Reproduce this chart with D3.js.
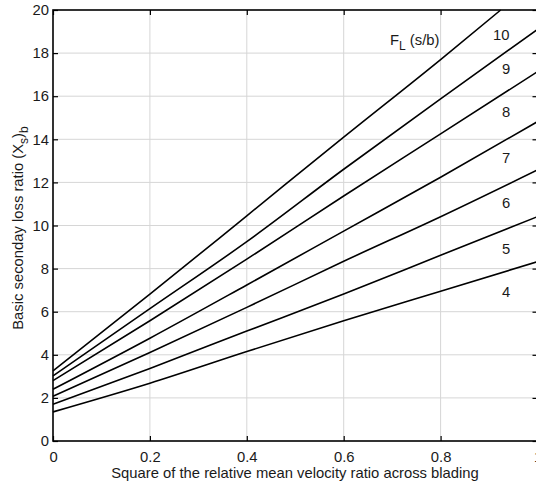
<!DOCTYPE html>
<html>
<head>
<meta charset="utf-8">
<script src="https://cdn.jsdelivr.net/npm/d3@7"></script>
<style>
  html, body { margin: 0; padding: 0; background: #fff; overflow: hidden; }
  svg { display: block; font-family: "Liberation Sans", Arial, sans-serif; }
</style>
</head>
<body>
<div id="chart"></div>
<script>
///////// data //////////
let x_vals = [0, 0.2, 0.4, 0.6, 0.8, 1.0];
let fl_4 = [1.35, 2.68, 4.15, 5.58, 6.95, 8.32];
let fl_5 = [1.70, 3.37, 5.10, 6.82, 8.62, 10.41];
let fl_6 = [2.08, 4.11, 6.20, 8.34, 10.41, 12.58];
let fl_7 = [2.40, 4.77, 7.24, 9.74, 12.24, 14.82];
let fl_8 = [2.80, 5.58, 8.44, 11.37, 14.25, 17.14];
let fl_9 = [3.02, 6.14, 9.25, 12.61, 15.88, 19.10];
let fl_10 = [3.25, 6.81, 10.45, 14.10, 17.70, 20.0];
let fl_10_x = [0, 0.2, 0.4, 0.6, 0.8, 0.924];
let series_names = ["4", "5", "6", "7", "8", "9", "10"];
let label_x = [0.935, 0.935, 0.935, 0.935, 0.935, 0.935, 0.925];
let label_y = [6.93, 8.94, 11.06, 13.13, 15.28, 17.26, 18.84];
let x_ticks = [0, 0.2, 0.4, 0.6, 0.8, 1];
let y_ticks = [0, 2, 4, 6, 8, 10, 12, 14, 16, 18, 20];

let series_list = [
  {name: "4", xs: x_vals, ys: fl_4},
  {name: "5", xs: x_vals, ys: fl_5},
  {name: "6", xs: x_vals, ys: fl_6},
  {name: "7", xs: x_vals, ys: fl_7},
  {name: "8", xs: x_vals, ys: fl_8},
  {name: "9", xs: x_vals, ys: fl_9},
  {name: "10", xs: fl_10_x, ys: fl_10},
];

// set the dimensions and margins of the graph
const W = 536, H = 492;
const plot_left = 53, plot_right = 537.5, plot_top = 10, plot_bottom = 441;
const FONT = 14.8;

const svg = d3.select("#chart")
  .append("svg")
  .attr("width", W)
  .attr("height", H);

const x = d3.scaleLinear().domain([0, 1]).range([plot_left, plot_right]);
const y = d3.scaleLinear().domain([0, 20]).range([plot_bottom, plot_top]);

// grid
svg.append("g")
  .selectAll("line")
  .data(x_ticks.slice(1, -1))
  .enter().append("line")
  .attr("x1", d => x(d)).attr("x2", d => x(d))
  .attr("y1", plot_top).attr("y2", plot_bottom)
  .attr("stroke", "#d6d6d6").attr("stroke-width", 1);
svg.append("g")
  .selectAll("line")
  .data(y_ticks.slice(1, -1))
  .enter().append("line")
  .attr("y1", d => y(d)).attr("y2", d => y(d))
  .attr("x1", plot_left).attr("x2", plot_right)
  .attr("stroke", "#d6d6d6").attr("stroke-width", 1);

// curves
const line = d3.line()
  .x(d => x(d[0]))
  .y(d => y(d[1]))
  .curve(d3.curveMonotoneX);

svg.append("g")
  .selectAll("path")
  .data(series_list)
  .enter().append("path")
  .attr("d", s => line(s.xs.map((v, i) => [v, s.ys[i]])))
  .attr("fill", "none")
  .attr("stroke", "#000")
  .attr("stroke-width", 1.6);

// axes (MATLAB style, inner ticks on all sides)
function styleAxis(g) {
  g.select(".domain").remove();
  g.selectAll(".tick line").attr("stroke", "#000").attr("stroke-width", 1.2);
  g.selectAll(".tick text").attr("font-size", FONT).attr("fill", "#1a1a1a")
    .attr("font-family", "'Liberation Sans', Arial, sans-serif");
}

svg.append("g")
  .attr("transform", "translate(0," + plot_bottom + ")")
  .call(d3.axisBottom(x).tickValues(x_ticks).tickSizeInner(-5).tickSizeOuter(0).tickPadding(10)
    .tickFormat(d => d === 0 || d === 1 ? d3.format("d")(d) : d3.format(".1f")(d)))
  .call(styleAxis);
svg.append("g")
  .attr("transform", "translate(0," + plot_top + ")")
  .call(d3.axisTop(x).tickValues(x_ticks).tickSizeInner(-5).tickSizeOuter(0).tickFormat(""))
  .call(styleAxis);
svg.append("g")
  .attr("transform", "translate(" + plot_left + ",0)")
  .call(d3.axisLeft(y).tickValues(y_ticks).tickSizeInner(-5).tickSizeOuter(0).tickPadding(4))
  .call(styleAxis);
svg.append("g")
  .attr("transform", "translate(" + plot_right + ",0)")
  .call(d3.axisRight(y).tickValues(y_ticks).tickSizeInner(-5).tickSizeOuter(0).tickFormat(""))
  .call(styleAxis);

// box
svg.append("rect")
  .attr("x", plot_left).attr("y", plot_top)
  .attr("width", plot_right - plot_left).attr("height", plot_bottom - plot_top)
  .attr("fill", "none").attr("stroke", "#000").attr("stroke-width", 1.6);

// curve labels
svg.append("g")
  .selectAll("text")
  .data(series_names)
  .enter().append("text")
  .attr("x", (d, i) => x(label_x[i]))
  .attr("y", (d, i) => y(label_y[i]))
  .attr("dy", "0.35em")
  .attr("text-anchor", "middle")
  .attr("font-size", FONT)
  .attr("fill", "#1a1a1a")
  .text(d => d);

const fl = svg.append("text")
  .attr("x", 390).attr("y", 45)
  .attr("font-size", FONT).attr("fill", "#1a1a1a");
fl.append("tspan").text("F");
fl.append("tspan").attr("font-size", 12).attr("dy", 5).text("L");
fl.append("tspan").attr("dy", -5).text(" (s/b)");

// axis titles
svg.append("text")
  .attr("x", 295)
  .attr("y", 478)
  .attr("text-anchor", "middle")
  .attr("font-size", FONT).attr("fill", "#1a1a1a")
  .text("Square of the relative mean velocity ratio across blading");

const yl = svg.append("text")
  .attr("transform", "translate(23,228) rotate(-90)")
  .attr("text-anchor", "middle")
  .attr("font-size", FONT).attr("fill", "#1a1a1a");
yl.append("tspan").text("Basic seconday loss ratio (X");
yl.append("tspan").attr("font-size", 12).attr("dy", 5).text("s");
yl.append("tspan").attr("dy", -5).text(")");
yl.append("tspan").attr("font-size", 12).attr("dy", 5).text("b");
</script>
</body>
</html>
